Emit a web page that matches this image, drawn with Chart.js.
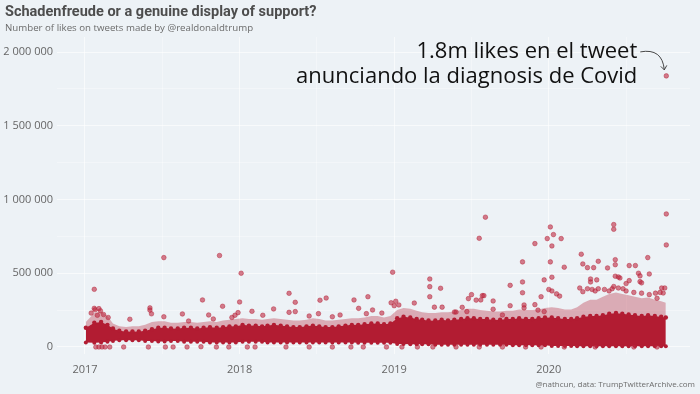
<!DOCTYPE html>
<html><head><meta charset="utf-8">
<script src="https://cdn.jsdelivr.net/npm/chart.js@4.4.1/dist/chart.umd.min.js"></script>
<style>
html,body{margin:0;padding:0;background:#edf2f6;}
#wrap{position:relative;width:700px;height:394px;}
canvas{display:block;}
</style></head>
<body><div id="wrap"><canvas id="c" width="700" height="394"></canvas></div>
<script>
// ---- data (likes in thousands) ----
const bandDates = [
'2017-01-03','2017-01-23','2017-02-08','2017-02-23','2017-03-08','2017-03-23','2017-04-08','2017-04-23','2017-05-08','2017-05-23','2017-06-08','2017-06-23',
'2017-07-08','2017-07-23','2017-08-08','2017-08-23','2017-09-08','2017-09-23','2017-10-08','2017-10-23','2017-11-08','2017-11-23','2017-12-08','2017-12-23',
'2018-01-08','2018-01-23','2018-02-08','2018-02-23','2018-03-08','2018-03-23','2018-04-08','2018-04-23','2018-05-08','2018-05-23','2018-06-08','2018-06-23',
'2018-07-08','2018-07-23','2018-08-08','2018-08-23','2018-09-08','2018-09-23','2018-10-08','2018-10-23','2018-11-08','2018-11-23','2018-12-08','2018-12-23',
'2019-01-08','2019-01-23','2019-02-08','2019-02-23','2019-03-08','2019-03-23','2019-04-08','2019-04-23','2019-05-08','2019-05-23','2019-06-08','2019-06-23',
'2019-07-08','2019-07-23','2019-08-08','2019-08-23','2019-09-08','2019-09-23','2019-10-08','2019-10-23','2019-11-08','2019-11-23','2019-12-08','2019-12-23',
'2020-01-08','2020-01-23','2020-02-08','2020-02-23','2020-03-08','2020-03-23','2020-04-08','2020-04-23','2020-05-08','2020-05-23','2020-06-08','2020-06-23',
'2020-07-08','2020-07-23','2020-08-08','2020-08-23','2020-09-08','2020-09-23','2020-10-04'];
const bandLow = [
30,28,30,35,40,45,45,45,45,40,40,38, 38,40,40,35,35,35,35,30,30,30,30,30,
35,35,35,35,30,30,30,30,30,30,30,30, 30,30,30,30,30,30,28,28,28,28,28,28,
20,20,18,18,18,18,15,15,15,15,15,15, 15,15,15,15,15,15,12,12,12,12,12,12,
6,6,6,6,5,5,5,5,5,5,5,5, 5,5,5,5,5,5,5];
const bandCore = [
130,165,170,150,125,110,105,105,105,110,120,130, 130,125,125,130,130,125,130,135,130,135,140,140,
150,145,145,140,145,150,145,140,135,135,140,145, 140,135,135,140,145,150,150,155,160,160,155,160,
195,205,200,190,185,180,180,185,180,185,190,195, 195,190,190,185,185,190,190,195,190,190,195,200,
200,195,190,190,195,205,210,210,215,225,230,225, 220,215,210,215,210,205,200];
const bandHalo = [
170,230,240,210,160,140,135,140,140,150,170,175, 175,165,165,170,170,165,170,175,170,180,185,190,
195,190,190,185,190,195,190,185,180,180,185,195, 190,180,180,185,190,195,195,200,210,210,200,210,
250,265,260,245,235,230,230,235,235,240,250,260, 260,250,245,240,240,245,245,255,250,250,255,265,
270,265,255,255,270,300,320,320,340,360,370,360, 350,340,330,335,320,310,300];
const tweetYear = [
2017.06,2017.06,2017.065,2017.09,2017.10,2017.04,2017.08,2017.12,2017.15,2017.29,2017.42,2017.42,2017.43,2017.51,2017.51,2017.63,2017.67,2017.76,2017.80,2017.83,2017.87,2017.89,2017.95,2017.97,
2018.01,2018.00,2017.99,2018.08,2018.22,2018.32,2018.36,2018.32,2018.36,2018.52,2018.56,2018.51,2018.65,2018.74,2018.83,2018.77,2018.82,2018.86,2018.99,2019.00,2018.15,2018.45,2018.60,2018.92,
2019.13,2019.23,2019.23,2019.23,2019.30,2019.26,2019.31,2019.39,2019.40,2019.44,2019.47,2019.48,2019.50,2019.53,2019.56,2019.57,2019.58,2019.55,2019.59,2019.64,2019.64,2019.70,2019.75,2019.75,
2019.83,2019.83,2019.83,2019.84,2019.84,2019.91,2019.91,2019.97,2019.99,2019.95,2019.93,2019.97,2018.98,2019.01,2019.03,
2020.01,2020.03,2020.02,2020.01,2020.02,2020.08,2020.10,2020.21,2020.22,2020.25,2020.29,2020.32,2020.38,2020.42,2020.42,2020.43,2020.43,2020.52,2020.56,2020.58,2020.59,2020.64,2020.65,2020.76,2020.76,2020.74,2020.75,2020.76,
2020.27,2020.27,2020.31,2020.43,2020.45,2020.46,2020.52,2020.59,2020.60,2020.50,
2020.00,2020.02,2020.05,2020.07,2020.20,2020.22,2020.25,2020.28,2020.30,2020.32,2020.36,2020.39,2020.41,2020.42,2020.45,2020.48,2020.50,2020.55,2020.60,2020.65,2020.69,2020.72,2020.73,2020.70,
2017.07,2017.09,2017.11,2017.13,2017.16,2017.25,2017.41,2017.52,2017.57,2017.66,2017.75,2017.85,2017.93,2018.05,2018.10,2018.30,2018.45,2018.60,2018.72,2018.80,2018.95,
2019.05,2019.15,2019.25,2019.40,2019.55,2019.70,2019.85,2019.95,2020.10,2020.30,2020.55,2020.70];
const tweetLikes = [
391,262,252,260,245,230,215,220,200,188,265,250,225,606,205,224,176,319,217,190,620,276,200,215,
500,305,233,242,258,364,303,235,240,317,332,226,217,319,341,262,226,251,507,280,215,210,205,230,
298,461,409,341,398,270,270,237,237,269,240,328,355,318,319,348,348,737,880,312,256,217,418,280,
577,441,368,285,265,701,287,455,735,341,250,240,300,310,285,
814,762,685,577,473,735,541,629,563,538,538,581,536,798,830,592,558,552,552,500,482,606,495,902,692,366,400,1838,
461,441,455,480,475,468,450,443,435,430,
390,380,360,345,400,375,395,390,380,395,390,380,395,410,400,395,380,370,365,355,365,370,400,330,
0,0,0,0,0,0,0,0,0,0,2,0,0,0,0,0,0,0,0,0,0,
0,0,0,0,0,0,0,0,0,0,0,0];
const yGridValues = [0, 250000, 500000, 750000, 1000000, 1250000, 1500000, 1750000, 2000000];
const yTickValues = [0, 500000, 1000000, 1500000, 2000000];
const xGridYears = [2017, 2017.5, 2018, 2018.5, 2019, 2019.5, 2020, 2020.5];
const xTickYears = [2017, 2018, 2019, 2020];

// ---- helpers ----
function decYear(s){
  const [y,m,d] = s.split('-').map(Number);
  const start = Date.UTC(y,0,1), end = Date.UTC(y+1,0,1);
  return y + (Date.UTC(y,m-1,d) - start) / (end - start);
}
const bx = bandDates.map(decYear);
const pts = (arr) => arr.map((v,i)=>({x:bx[i], y:v*1000}));
const tweets = tweetYear.map((x,i)=>({x:x, y:tweetLikes[i]*1000}));
const fmt = v => String(v).replace(/\B(?=(\d{3})+(?!\d))/g,' ');
const RED = 'rgb(178,28,50)';
const near = (a,b) => Math.abs(a-b) < 1e-6;

const annot = {
  id:'annot',
  afterDraw(chart){
    const c = chart.ctx, xs = chart.scales.x, ys = chart.scales.y;
    const px = xs.getPixelForValue(2020.76), py = ys.getPixelForValue(1838000);
    c.save();
    c.fillStyle = '#111';
    c.font = '22px "Open Sans"';
    c.textAlign = 'right';
    c.textBaseline = 'alphabetic';
    c.fillText('1.8m likes en el tweet', px - 29, py - 18);
    c.fillText('anunciando la diagnosis de Covid', px - 29, py + 7);
    // arrow
    c.strokeStyle = '#333'; c.lineWidth = 0.9;
    const sx = px - 26, sy = py - 24, ex = px - 2, ey = py - 6;
    c.beginPath(); c.moveTo(sx, sy);
    c.quadraticCurveTo(px - 4, py - 28, ex, ey); c.stroke();
    c.beginPath();
    c.moveTo(ex - 3.5, ey - 3.5); c.lineTo(ex, ey); c.lineTo(ex + 2.5, ey - 4.5); c.stroke();
    // title, subtitle, caption
    c.textAlign = 'left';
    c.fillStyle = '#4d4d4d';
    c.font = 'bold 14.5px Roboto';
    c.fillText('Schadenfreude or a genuine display of support?', 5, 16);
    c.fillStyle = '#6b6b6b';
    c.font = '9.7px "Open Sans"';
    c.fillText('Number of likes on tweets made by @realdonaldtrump', 5, 31);
    c.textAlign = 'right';
    c.font = '8px "Open Sans"';
    c.fillText('@nathcun, data: TrumpTwitterArchive.com', 695, 387);
    c.restore();
  }
};

new Chart(document.getElementById('c'), {
  type:'scatter',
  data:{datasets:[
    {type:'line', data:pts(bandLow), borderWidth:0, pointRadius:2, pointBackgroundColor:RED, pointBorderWidth:0, fill:false, order:3, tension:0},
    {type:'line', data:pts(bandCore), borderWidth:0, pointRadius:2.2, pointBackgroundColor:RED, pointBorderWidth:0, fill:'-1', backgroundColor:RED, order:3, tension:0},
    {type:'line', data:pts(bandHalo), borderWidth:0, pointRadius:0, fill:'-1', backgroundColor:'rgba(178,28,50,0.33)', order:3, tension:0},
    {data:tweets, pointRadius:2.3, pointBackgroundColor:'rgba(190,40,65,0.6)', pointBorderColor:'rgba(178,28,50,0.75)', pointBorderWidth:0.6, order:0}
  ]},
  options:{
    responsive:false, animation:false,
    layout:{padding:{top:37, right:10, left:0, bottom:0}},
    plugins:{legend:{display:false}, tooltip:{enabled:false}},
    scales:{
      x:{type:'linear', min:2016.8189, max:2020.9133,
         afterFit(s){ s.height = 40; },
         afterBuildTicks(s){ s.ticks = xGridYears.map(v=>({value:v})); },
         border:{display:false},
         grid:{drawTicks:false, color:(ctx)=>{const v=ctx.tick&&ctx.tick.value; if(v==null) return 'rgba(0,0,0,0)'; return xTickYears.some(y=>near(y,v))?'rgba(255,255,255,0.6)':'rgba(255,255,255,0.35)';}},
         ticks:{padding:9, color:'#666', font:{family:'Open Sans', size:11},
           callback:(v)=> xTickYears.some(y=>near(y,v)) ? String(Math.round(v)) : ''}},
      y:{type:'linear', min:-47500, max:2101700,
         afterFit(s){ s.width = 57; },
         afterBuildTicks(s){ s.ticks = yGridValues.map(v=>({value:v})); },
         border:{display:false},
         grid:{drawTicks:false, color:(ctx)=>{const v=ctx.tick&&ctx.tick.value; if(v==null) return 'rgba(0,0,0,0)'; return yTickValues.includes(v)?'rgba(255,255,255,0.6)':'rgba(255,255,255,0.35)';}},
         ticks:{padding:4, color:'#666', font:{family:'Open Sans', size:11},
           callback:(v)=> yTickValues.includes(v) ? fmt(v) : ''}}
    }
  },
  plugins:[annot]
});
</script></body></html>
